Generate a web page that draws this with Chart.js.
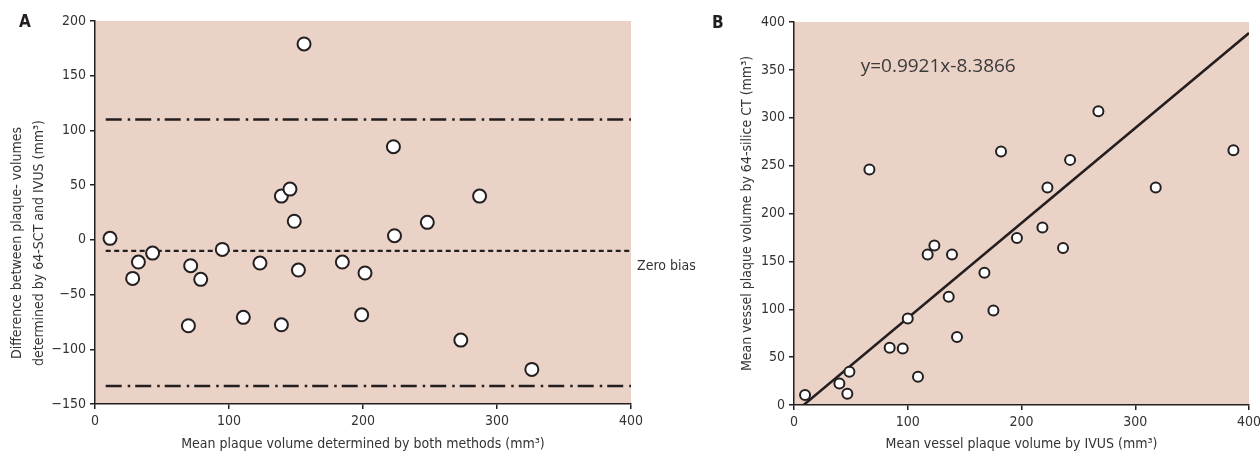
<!DOCTYPE html>
<html>
<head>
<meta charset="utf-8">
<script src="https://cdn.jsdelivr.net/npm/chart.js@4.4.1/dist/chart.umd.min.js"></script>
<style>
  body { margin: 0; background: #fff; width: 1260px; height: 453px; position: relative; overflow: hidden; }
  #boxA { position: absolute; left: 0; top: 0; width: 700px; height: 453px; }
  #boxB { position: absolute; left: 700px; top: 0; width: 560px; height: 453px; }
  .panel { position: absolute; font: bold 17px 'Liberation Sans Narrow', 'DejaVu Sans Condensed', sans-serif; color: #231f20; }
</style>
</head>
<body>
<div id="boxA"><canvas id="chartA"></canvas></div>
<div id="boxB"><canvas id="chartB"></canvas></div>
<div class="panel" style="left:19px;top:11px">A</div>
<div class="panel" style="left:712px;top:12px">B</div>
<script>
// panel A: Bland-Altman
const meanA = [11.2, 28.1, 32.4, 43, 69.7, 71.4, 78.9, 95, 110.7, 123.1, 139.1, 139.1, 145.5, 148.7, 151.8, 156, 184.6, 199, 201.5, 222.7, 223.5, 248, 273, 287, 326];
const diffA = [1.4, -35.2, -20.3, -12.1, -78.5, -23.6, -36.1, -8.7, -70.8, -21.2, -77.6, 40, 46.4, 17, -27.6, 179, -20.3, -68.5, -30.3, 85.1, 3.8, 16, -91.6, 40, -118.4];
const biasA = -10;
const upperLimitA = 110;
const lowerLimitA = -133.6;
const limitSpanA = [8, 400];
const yTitleA = ['Difference between plaque- volumes', 'determined by 64-SCT and IVUS (mm\u00b3)'];

// panel B: IVUS vs 64-slice CT
const ivusB = [9.7, 39.9, 46.9, 48.7, 66.3, 84.1, 95.6, 100, 109, 117.5, 123.4, 136, 138.9, 143.3, 167.4, 175.3, 182, 196, 218.4, 222.8, 236.5, 242.7, 267.6, 318, 386.3];
const ctB = [10.4, 22.5, 11.8, 34.8, 245.9, 59.8, 59.1, 90.4, 29.5, 157.2, 166.6, 113, 157.2, 71, 138.1, 98.7, 264.7, 174.3, 185.4, 227.2, 163.9, 256, 306.9, 227.2, 266];
const slopeB = 0.9921;
const interceptB = -8.3866;
const fitSpanB = [-interceptB / slopeB, 400];

const ink = '#231f20';
const plotBg = '#ebd2c6';
const narrow = "'Liberation Sans Narrow', 'DejaVu Sans Condensed', sans-serif";

const toPoints = (xs, ys) => xs.map((x, i) => ({ x: x, y: ys[i] }));
const hLine = (span, y) => span.map(x => ({ x: x, y: y }));

const plotBackground = {
  id: 'plotBackground',
  beforeDraw(chart) {
    const a = chart.chartArea, ctx = chart.ctx;
    ctx.save();
    ctx.fillStyle = plotBg;
    ctx.fillRect(a.left, a.top, a.right - a.left, a.bottom - a.top);
    ctx.restore();
  }
};

function axisStyle(title, min, max, step) {
  return {
    type: 'linear',
    min: min,
    max: max,
    ticks: {
      stepSize: step,
      color: '#333',
      font: { family: narrow, size: 14 },
      padding: 4,
      callback: v => String(v).replace('-', '\u2212')
    },
    grid: { drawOnChartArea: false, drawTicks: true, tickLength: 5, color: ink, lineWidth: 1.5 },
    border: { display: true, color: ink, width: 1.5 },
    title: { display: true, text: title, color: '#333', font: { family: narrow, size: 14 }, padding: 0 }
  };
}

Chart.defaults.animation = false;

// --- chart A
const xA = axisStyle('Mean plaque volume determined by both methods (mm\u00b3)', 0, 400, 100);
xA.afterFit = s => { s.height = 49; };
const yA = axisStyle('', -150, 200, 50);
yA.title.display = false;
yA.afterFit = s => { s.width = 95; };

new Chart(document.getElementById('chartA'), {
  type: 'scatter',
  data: {
    datasets: [
      {
        data: toPoints(meanA, diffA),
        backgroundColor: '#fff',
        borderColor: ink,
        borderWidth: 2,
        pointRadius: 6.5,
        order: 0
      },
      {
        type: 'line',
        data: hLine(limitSpanA, upperLimitA),
        borderColor: ink, borderWidth: 2.5, borderDash: [16, 6, 2.5, 5],
        pointRadius: 0, order: 1
      },
      {
        type: 'line',
        data: hLine(limitSpanA, lowerLimitA),
        borderColor: ink, borderWidth: 2.5, borderDash: [16, 6, 2.5, 5],
        pointRadius: 0, order: 1
      },
      {
        type: 'line',
        data: hLine(limitSpanA, biasA),
        borderColor: ink, borderWidth: 2.2, borderDash: [5, 3.5],
        pointRadius: 0, order: 1
      }
    ]
  },
  options: {
    responsive: true,
    maintainAspectRatio: false,
    layout: { padding: { top: 21, right: 69, left: 0, bottom: 0 } },
    plugins: { legend: { display: false }, tooltip: { enabled: false } },
    scales: { x: xA, y: yA }
  },
  plugins: [plotBackground, {
    id: 'labelsA',
    afterDraw(chart) {
      const ctx = chart.ctx;
      ctx.save();
      ctx.font = '14px ' + narrow;
      ctx.fillStyle = '#333';
      ctx.textBaseline = 'middle';
      ctx.fillText('Zero bias', chart.chartArea.right + 6, chart.scales.y.getPixelForValue(biasA) + 16);
      // y title sits a little below the axis centre in the original
      ctx.textAlign = 'center';
      ctx.translate(0, 243);
      ctx.rotate(-Math.PI / 2);
      ctx.fillText(yTitleA[0], 0, 17.5);
      ctx.fillText(yTitleA[1], 0, 39);
      ctx.restore();
    }
  }]
});

// --- chart B
const xB = axisStyle('Mean vessel plaque volume by IVUS (mm\u00b3)', 0, 400, 100);
xB.afterFit = s => { s.height = 48; s.paddingRight = 0; };
const yB = axisStyle('Mean vessel plaque volume by 64-silice CT (mm\u00b3)', 0, 400, 50);
yB.title.padding = { top: 39, bottom: 0 };
yB.afterFit = s => { s.width = 94; };

new Chart(document.getElementById('chartB'), {
  type: 'scatter',
  data: {
    datasets: [
      {
        data: toPoints(ivusB, ctB),
        backgroundColor: '#fff',
        borderColor: ink,
        borderWidth: 2,
        pointRadius: 5,
        order: 0
      },
      {
        type: 'line',
        data: fitSpanB.map(x => ({ x: x, y: slopeB * x + interceptB })),
        borderColor: ink, borderWidth: 2.5,
        pointRadius: 0, order: 1
      }
    ]
  },
  options: {
    responsive: true,
    maintainAspectRatio: false,
    layout: { padding: { top: 22, right: 11, left: 0, bottom: 0 } },
    plugins: { legend: { display: false }, tooltip: { enabled: false } },
    scales: { x: xB, y: yB }
  },
  plugins: [plotBackground, {
    id: 'equation',
    afterDraw(chart) {
      const ctx = chart.ctx;
      ctx.save();
      ctx.font = "19px 'Open Sans', sans-serif";
      ctx.fillStyle = '#3a3a3a';
      ctx.textBaseline = 'middle';
      ctx.fillText('y=' + slopeB + 'x' + interceptB, chart.scales.x.getPixelForValue(58.6), chart.scales.y.getPixelForValue(353));
      ctx.restore();
    }
  }]
});
</script>
</body>
</html>
